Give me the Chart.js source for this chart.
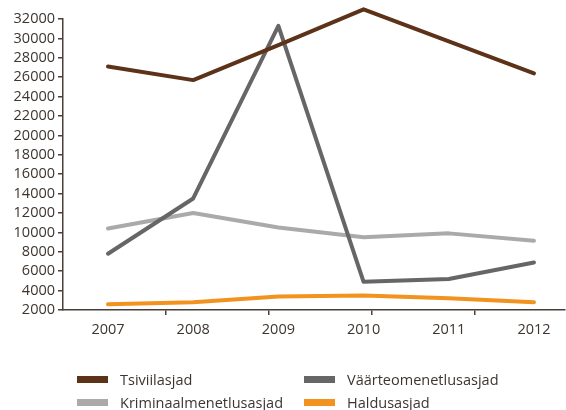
<!DOCTYPE html>
<html>
<head>
<meta charset="utf-8">
<script src="https://cdn.jsdelivr.net/npm/chart.js@4/dist/chart.umd.min.js"></script>
<style>
  html, body { margin: 0; padding: 0; background: #fff; }
  #wrap { position: relative; width: 566px; height: 410px; }
  #legend { position: absolute; left: 0; top: 0; width: 566px; height: 410px; pointer-events: none;
            font-family: "Open Sans", sans-serif; font-size: 14.5px; color: #3d3530; }
  .item { position: absolute; display: flex; align-items: center; white-space: nowrap; }
  .box { width: 31px; height: 7px; margin-right: 12px; }
</style>
</head>
<body>
<div id="wrap">
  <canvas id="c" width="566" height="410"></canvas>
  <div id="legend"></div>
</div>
<script>
const years = [2007, 2008, 2009, 2010, 2011, 2012];
const seriesNames = ["Tsiviilasjad", "Väärteomenetlusasjad", "Kriminaalmenetlusasjad", "Haldusasjad"];
const tsiviil = [27100, 25700, 29300, 33000, 29700, 26400];
const vaarteo = [7800, 13500, 31300, 4900, 5200, 6900];
const kriminaal = [10400, 12000, 10500, 9500, 9900, 9150];
const haldus = [2600, 2800, 3400, 3500, 3200, 2800];
const yTicks = [2000, 4000, 6000, 8000, 10000, 12000, 14000, 16000, 18000, 20000, 22000, 24000, 26000, 28000, 30000, 32000];

const colors = ["#5c3318", "#666666", "#aaaaaa", "#f3931f"];
const values = [tsiviil, vaarteo, kriminaal, haldus];
const axisColor = "#4a3f38";
const textColor = "#3d3530";
// decorative tick marks on x axis (positions in axis units, not data)
const xMarks = [2007.681, 2008.890, 2010.099, 2011.308];

const datasets = seriesNames.map((n, i) => ({
  label: n,
  data: years.map((y, j) => ({ x: y, y: values[i][j] })),
  borderColor: colors[i],
  backgroundColor: colors[i],
  borderWidth: 4,
  pointRadius: 0,
  tension: 0,
  clip: false,
  borderCapStyle: 'round',
  borderJoinStyle: 'round'
}));

new Chart(document.getElementById('c'), {
  type: 'line',
  data: { datasets },
  options: {
    responsive: false,
    animation: false,
    layout: { padding: { top: 19, right: 1, left: 0, bottom: 0 } },
    plugins: { legend: { display: false }, tooltip: { enabled: false } },
    scales: {
      x: {
        type: 'linear',
        min: 2006.472,
        max: 2012.364,
        afterBuildTicks: s => { s.ticks = years.concat(xMarks).sort((a,b)=>a-b).map(v => ({ value: v })); },
        afterFit: s => { s.height = 100; },
        border: { display: true, color: axisColor, width: 1.5 },
        grid: {
          drawOnChartArea: false,
          drawTicks: true,
          tickLength: 5,
          lineWidth: 1.5,
          color: ctx => (ctx.tick && years.includes(ctx.tick.value)) ? 'rgba(0,0,0,0)' : axisColor
        },
        ticks: {
          autoSkip: false,
          maxRotation: 0,
          padding: 6,
          color: textColor,
          font: { family: "Open Sans", size: 14.5 },
          callback: v => years.includes(v) ? String(v) : ''
        }
      },
      y: {
        min: 2000,
        max: 32000,
        afterBuildTicks: s => { s.ticks = yTicks.map(v => ({ value: v })); },
        afterFit: s => { s.width = 63; },
        border: { display: true, color: axisColor, width: 1.5 },
        grid: { drawOnChartArea: false, drawTicks: true, tickLength: 5, lineWidth: 1.5, color: axisColor },
        ticks: {
          autoSkip: false,
          padding: 3,
          color: textColor,
          font: { family: "Open Sans", size: 14.5 },
          callback: v => String(v)
        }
      }
    }
  }
});

// HTML legend in two columns, built from the series
const legendPos = [[77, 379], [304, 379], [77, 402], [304, 402]];
const legendOrder = [0, 1, 2, 3];
const lg = document.getElementById('legend');
legendOrder.forEach((si, k) => {
  const d = document.createElement('div');
  d.className = 'item';
  d.style.left = legendPos[k][0] + 'px';
  d.style.top = (legendPos[k][1] - 10) + 'px';
  d.style.height = '20px';
  const b = document.createElement('span');
  b.className = 'box';
  b.style.background = colors[si];
  const t = document.createElement('span');
  t.textContent = seriesNames[si];
  d.appendChild(b); d.appendChild(t);
  lg.appendChild(d);
});
</script>
</body>
</html>
